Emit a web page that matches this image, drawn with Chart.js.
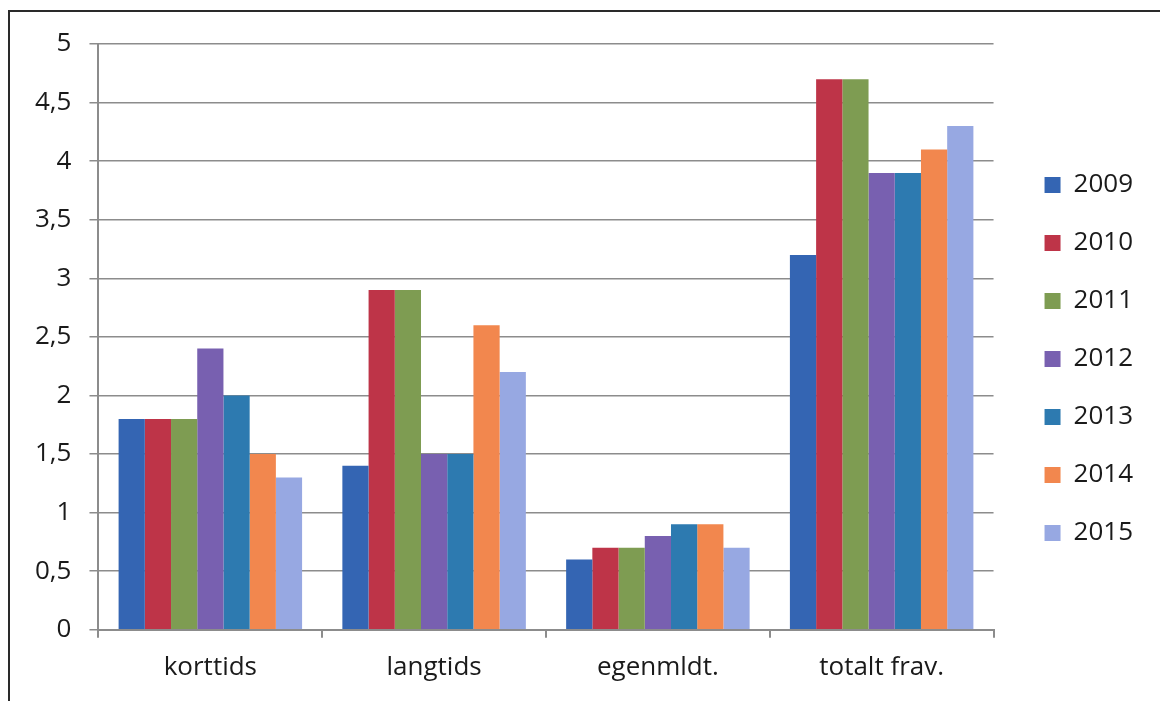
<!DOCTYPE html>
<html>
<head>
<meta charset="utf-8">
<script src="https://cdn.jsdelivr.net/npm/chart.js@4"></script>
<style>
  html, body { margin: 0; padding: 0; background: #fff; }
  #wrap { position: relative; width: 1160px; height: 701px; }
  #frame { position: absolute; left: 8px; top: 10px; right: 0; bottom: 0;
           border-top: 2px solid #2a2a2a; border-left: 2px solid #2a2a2a; }
  canvas { position: absolute; left: 0; top: 0; }
</style>
</head>
<body>
<div id="wrap">
  <div id="frame"></div>
  <canvas id="myChart" width="1160" height="701"></canvas>
</div>
<script>
const ctx = document.getElementById('myChart');

// categories and years
var categories = ['korttids', 'langtids', 'egenmldt.', 'totalt frav.'];
var years = ['2009', '2010', '2011', '2012', '2013', '2014', '2015'];

// values per year, in category order
var v2009 = [1.8, 1.4, 0.6, 3.2];
var v2010 = [1.8, 2.9, 0.7, 4.7];
var v2011 = [1.8, 2.9, 0.7, 4.7];
var v2012 = [2.4, 1.5, 0.8, 3.9];
var v2013 = [2.0, 1.5, 0.9, 3.9];
var v2014 = [1.5, 2.6, 0.9, 4.1];
var v2015 = [1.3, 2.2, 0.7, 4.3];

var yTicks = [0, 0.5, 1, 1.5, 2, 2.5, 3, 3.5, 4, 4.5, 5];

var seriesValues = [v2009, v2010, v2011, v2012, v2013, v2014, v2015];
var colors = ['#3465b3', '#be3448', '#7e9c52', '#7860b0', '#2d7ab0', '#f2874e', '#97a8e2'];

var datasets = [];
for (let i = 0; i < years.length; i++) {
    datasets.push({
        label: years[i],
        data: seriesValues[i],
        backgroundColor: colors[i],
        borderWidth: 0,
        categoryPercentage: 0.82,
        barPercentage: 1.0
    });
}

var gridColor = '#8c8c8c';
var font = { family: '"Open Sans", sans-serif', size: 26 };

new Chart(ctx, {
    type: 'bar',
    data: {
        labels: categories,
        datasets: datasets
    },
    options: {
        responsive: false,
        animation: false,
        layout: {
            padding: { top: 44, bottom: 4, left: 17, right: 17 }
        },
        plugins: {
            tooltip: { enabled: false },
            legend: {
                position: 'right',
                align: 'start',
                // empty title only pushes the items down
                title: {
                    display: true,
                    text: '',
                    font: { size: 10, lineHeight: 1 },
                    padding: { top: 86, bottom: 0 }
                },
                labels: {
                    boxWidth: 16,
                    boxHeight: 16,
                    padding: 32,
                    color: '#1a1a1a',
                    font: font
                }
            }
        },
        scales: {
            x: {
                grid: {
                    offset: true,
                    drawOnChartArea: false,
                    drawTicks: true,
                    tickLength: 8,
                    color: gridColor,
                    lineWidth: 2
                },
                border: { color: gridColor, width: 2 },
                ticks: { color: '#1a1a1a', font: font, padding: 14 }
            },
            y: {
                min: 0,
                max: 5,
                afterBuildTicks: function (axis) {
                    axis.ticks = yTicks.map(function (v) { return { value: v }; });
                },
                grid: {
                    color: gridColor,
                    lineWidth: 1.5,
                    tickLength: 9
                },
                border: { color: gridColor, width: 2 },
                ticks: {
                    color: '#1a1a1a',
                    font: font,
                    padding: 18,
                    callback: function (v) { return String(v).replace('.', ','); }
                }
            },
            // empty spacer between plot and legend
            gap: {
                axis: 'y',
                position: 'right',
                display: true,
                grid: { display: false },
                border: { display: false },
                ticks: { display: false },
                afterFit: function (axis) { axis.width = 19; }
            }
        }
    }
});
</script>
</body>
</html>
